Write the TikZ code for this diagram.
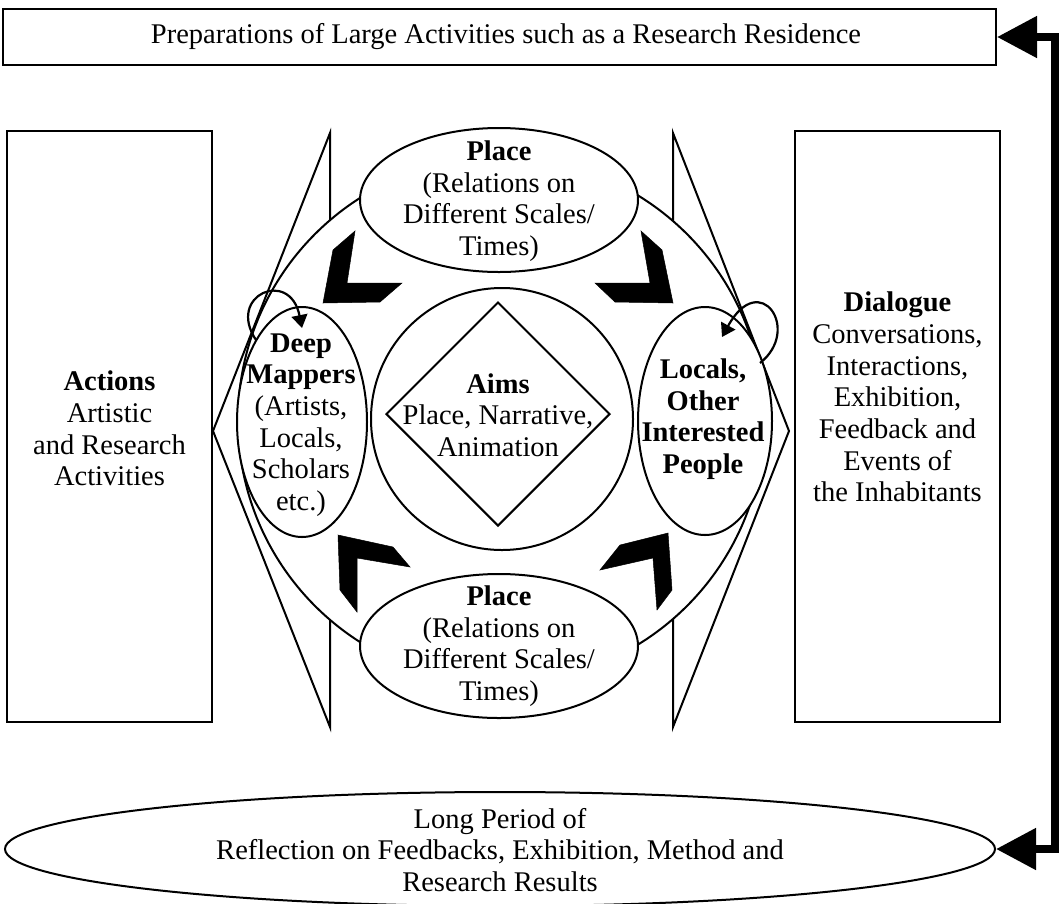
\documentclass[tikz,border=0pt]{standalone}
\usepackage{fontspec}
\setmainfont{Liberation Serif}
\usetikzlibrary{arrows.meta,shapes.geometric}
\begin{document}
\begin{tikzpicture}[x=1pt,y=-1pt,line width=2pt,
  ell/.style={draw, ellipse, fill=white, inner sep=0pt},
  circ/.style={draw, circle, fill=white, inner sep=0pt},
  boxn/.style={draw, rectangle, inner sep=0pt},
  txt/.style={font=\fontsize{28.5}{31.7}\selectfont, align=center, inner sep=0pt},
  chev/.style={fill=black, draw=black, line width=0.5pt, line join=miter},
  loopar/.style={line width=2.2pt, -{Triangle[length=13pt,width=16pt]}},
  bigconn/.style={line width=8pt, line join=miter,
    {Triangle[length=40pt,width=40pt]}-{Triangle[length=40pt,width=40pt]}}]
\useasboundingbox (0,0) rectangle (1060,903);

% side triangles
\draw[line join=miter] (330,133) -- (213,431) -- (330,727) -- cycle;
\draw[line join=miter] (673,133) -- (789,431) -- (673,727) -- cycle;

% big circle
\node[circ, minimum size=526pt] (big) at (501,420) {};

% ellipses
\node[ell, minimum width=278pt, minimum height=144pt] (pt) at (499,200) {};
\node[ell, minimum width=278pt, minimum height=144pt] (pb) at (499,646) {};
\node[ell, minimum width=130pt, minimum height=230pt] (dm) at (302,422) {};
\node[ell, minimum width=134pt, minimum height=228pt] (lo) at (705,421) {};

% inner circle and diamond
\node[circ, minimum size=262pt] (aimsc) at (502,419) {};
\node[draw, diamond, aspect=1, minimum width=224pt, minimum height=224pt, inner sep=0pt] (dia) at (498,414) {};

% chevrons
\fill[chev] (323,303) -- (333,250) -- (355,231) -- (347,283) -- (402,283) -- (380,302) -- cycle;
\fill[chev] (673,303) -- (662,250) -- (641,231) -- (650,283) -- (595,283) -- (615,302) -- cycle;
\fill[chev] (338,535) -- (393,547) -- (410,567) -- (357,558) -- (357,612) -- (340,590) -- cycle;
\fill[chev] (668,533) -- (620,545) -- (600,570) -- (653,558) -- (657,610) -- (672,590) -- cycle;

% self loops
\coordinate (dmA) at (256,340);
\coordinate (dmB) at (302,328);
\draw[loopar] (dmA) .. controls (226,295) and (290,268) .. (dmB);
\coordinate (loA) at (760,363);
\coordinate (loB) at (722,337);
\draw[loopar] (loA) .. controls (802,330) and (760,268) .. (loB);

% texts inside central figure
\node[txt] (ptt) at (499,201) {\textbf{Place}\\(Relations on\\Different Scales/\\Times)};
\node[txt] (pbt) at (499,646) {\textbf{Place}\\(Relations on\\Different Scales/\\Times)};
\node[txt] (aimst) at (498,415) {\textbf{Aims}\\Place, Narrative,\\Animation};
\node[txt] (dmt) at (301,425) {\textbf{Deep}\\\textbf{Mappers}\\(Artists,\\Locals,\\Scholars\\etc.)};
\node[txt] (lot) at (703,419) {\textbf{Locals,}\\\textbf{Other}\\\textbf{Interested}\\\textbf{People}};

% side boxes
\node[boxn, minimum width=205pt, minimum height=591pt] (act) at (109.5,426.5) {};
\node[txt] (actt) at (109.5,428.5) {\textbf{Actions}\\Artistic\\and Research\\Activities};
\node[boxn, minimum width=205pt, minimum height=591pt] (dia2) at (897.5,426.5) {};
\node[txt] (diat) at (897.5,397) {\textbf{Dialogue}\\Conversations,\\Interactions,\\Exhibition,\\Feedback and\\Events of\\the Inhabitants};

% top box
\node[boxn, minimum width=993pt, minimum height=56pt] (prep) at (499.5,37) {};
\node[txt] (prept) at (506,37) {Preparations of Large Activities such as a Research Residence};

% bottom ellipse (runs past the lower edge, as in the reference)
\node[ell, minimum width=990pt, minimum height=114pt] (long) at (500,849) {};
\node[txt] (longt) at (500,850) {Long Period of\\Reflection on Feedbacks, Exhibition, Method and\\Research Results};

% right connector
\coordinate (rtop) at (1055,37);
\coordinate (rbot) at (1055,849);
\draw[bigconn] (prep.east) -- (rtop) -- (rbot) -- (long.east);
\end{tikzpicture}
\end{document}
